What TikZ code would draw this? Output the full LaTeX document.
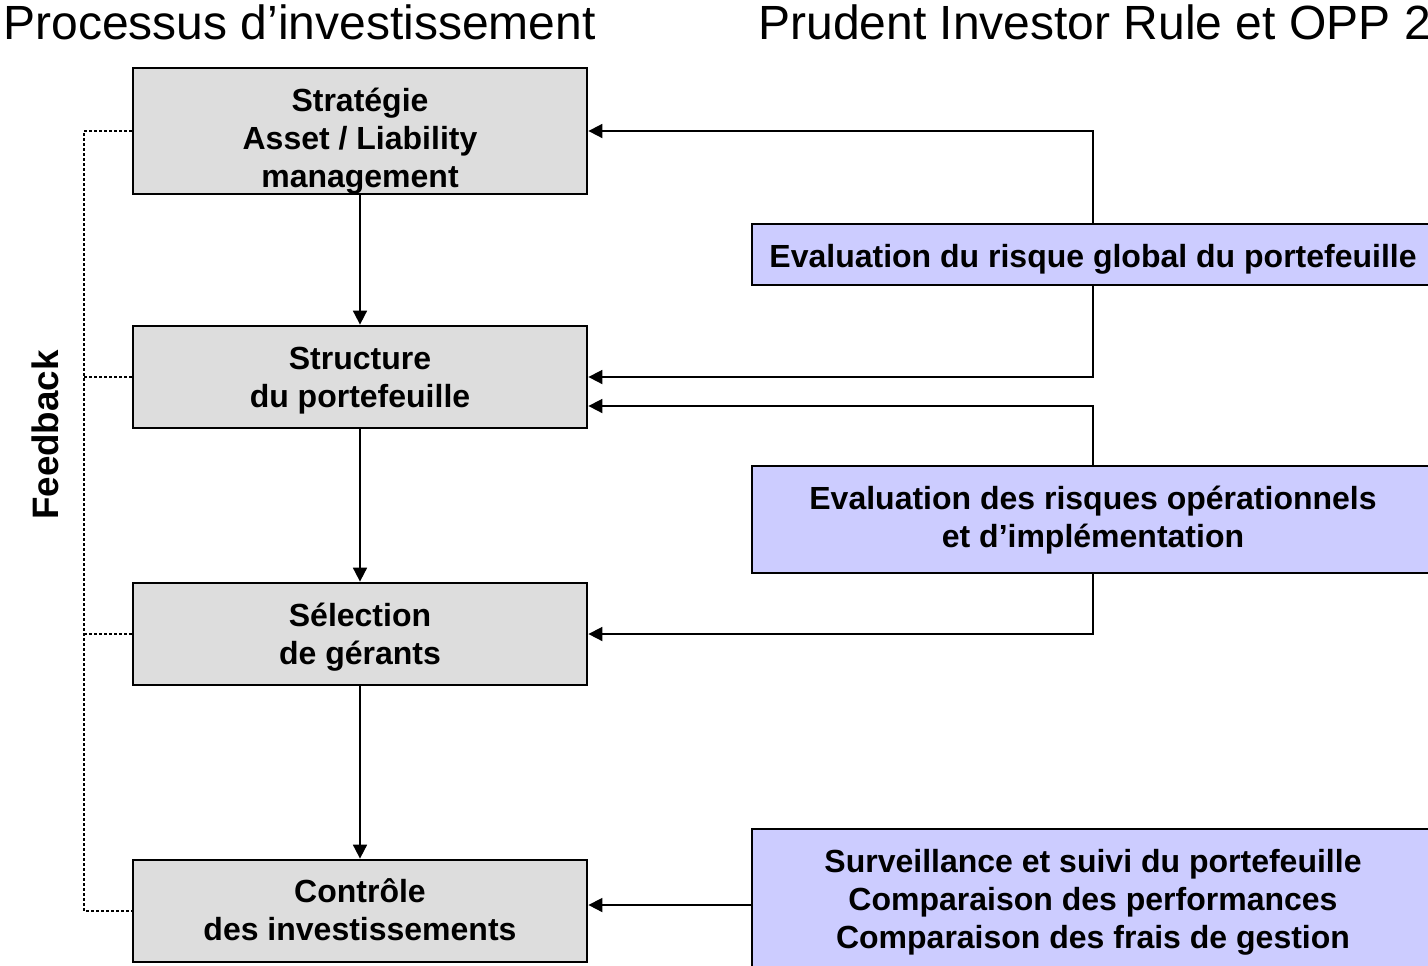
\documentclass[tikz,border=0pt]{standalone}
\usepackage{fontspec}
\setmainfont{Liberation Sans}
\usetikzlibrary{arrows.meta,calc}
\definecolor{boxgray}{HTML}{DDDDDD}
\definecolor{boxblue}{HTML}{CCCCFF}
\newcommand{\boxtext}[2]{\raisebox{#1}[0pt][0pt]{\begin{tabular}{@{}c@{}}#2\end{tabular}}}
\begin{document}
\begin{tikzpicture}[x=0.5pt,y=-0.5pt,
  graybox/.style={draw=black,line width=1.4pt,fill=boxgray,minimum width=227pt,align=center,inner sep=0pt,
    font=\fontsize{16}{19}\selectfont\bfseries},
  bluebox/.style={draw=black,line width=1.1pt,fill=boxblue,minimum width=341pt,align=center,inner sep=0pt,
    font=\fontsize{16}{19}\selectfont\bfseries},
  arr/.style={line width=0.9pt,-{Triangle[length=7pt,width=7pt]}},
  fbline/.style={line width=1.2pt,dash pattern=on 1.2pt off 1.3pt},
  title/.style={font=\fontsize{24}{28}\selectfont,anchor=base west,inner sep=0pt}]
\useasboundingbox (0,0) rectangle (1428,965);
\node[title] (t1) at (3,39) {Processus d’investissement};
\node[title] (t2) at (758,39) {Prudent Investor Rule et OPP 2};
\node[graybox,minimum height=63pt] (s1) at (360,131) {\boxtext{-10pt}{Stratégie\\Asset / Liability\\management}};
\node[graybox,minimum height=51pt] (s2) at (360,377) {\boxtext{-6.5pt}{Structure\\du portefeuille}};
\node[graybox,minimum height=51pt] (s3) at (360,634) {\boxtext{-6.5pt}{Sélection\\de gérants}};
\node[graybox,minimum height=51pt] (s4) at (360,911) {\boxtext{-6pt}{Contrôle\\des investissements}};
\node[bluebox,minimum height=30.5pt] (ea) at (1093,254.5) {\boxtext{-7pt}{Evaluation du risque global du portefeuille}};
\node[bluebox,minimum height=53.5pt] (eb) at (1093,519.5) {\boxtext{-5pt}{Evaluation des risques opérationnels\\et d’implémentation}};
\node[bluebox,minimum height=76pt] (ec) at (1093,905) {\boxtext{-3.5pt}{Surveillance et suivi du portefeuille\\Comparaison des performances\\Comparaison des frais de gestion}};
\node[font=\fontsize{18.4}{22}\selectfont\bfseries,rotate=90] (fb) at (45,435) {Feedback};
\coordinate (fbx) at (84,0);
\draw[arr] (s1.south) -- (s2.north);
\draw[arr] (s2.south) -- (s3.north);
\draw[arr] (s3.south) -- (s4.north);
\draw[arr] (ea.north) |- (s1.east);
\draw[arr] (ea.south) |- (s2.east);
\draw[arr] (eb.north) |- ($(s2.east)+(0,29)$);
\draw[arr] (eb.south) |- (s3.east);
\draw[arr] (ec.west) -- (ec.west -| s4.east);
\draw[fbline] (s1.west) -- (s1.west -| fbx) -- (s4.west -| fbx) -- (s4.west);
\draw[fbline] (s2.west) -- (s2.west -| fbx);
\draw[fbline] (s3.west) -- (s3.west -| fbx);
\end{tikzpicture}
\end{document}
